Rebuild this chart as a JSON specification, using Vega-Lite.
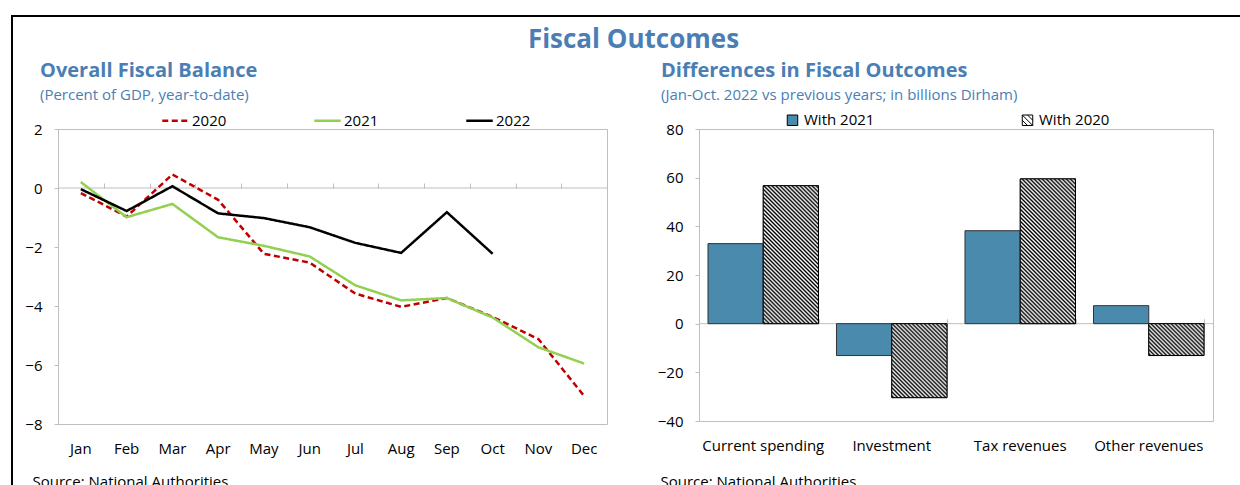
{
"$schema": "https://vega.github.io/schema/vega-lite/v6.json",
"background": "white",
"padding": {"left": 11, "top": 15, "right": 0, "bottom": 0},
"spacing": 0,
"hconcat": [
 {"width": 2, "height": 480, "view": {"fill": "#000", "stroke": null}, "data": {"values": []}, "mark": "point", "encoding": {}},
 {"spacing": 7, "vconcat": [
  {"width": 1227, "height": 2, "view": {"fill": "#000", "stroke": null},
   "title": {"text": "Fiscal Outcomes", "orient": "bottom", "anchor": "middle", "frame": "group", "baseline": "top", "dx": 7, "offset": 10, "fontSize": 26, "fontWeight": "bold", "color": "#4a7eb4", "font": "Open Sans"},
   "data": {"values": []}, "mark": "point", "encoding": {}},
  {"bounds": "flush", "spacing": 44,
   "hconcat": [
    {"width": 1, "height": 295, "view": {"stroke": null}, "data": {"values": []}, "mark": "point", "encoding": {}},
    {"bounds": "flush", "spacing": 92, "hconcat": [
     {"width": 549, "height": 295,
      "title": {"text": "Overall Fiscal Balance", "subtitle": "(Percent of GDP, year-to-date)", "anchor": "start", "frame": "group", "dx": -18, "offset": 19, "fontSize": 20, "fontWeight": "bold", "color": "#4a7eb4", "font": "Open Sans", "subtitleFont": "Open Sans", "subtitleFontSize": 15, "subtitleColor": "#4a7eb4", "subtitlePadding": 7},
      "data": {"values": [
        {"m": "Jan", "yr": "2020", "v": -0.17}, {"m": "Feb", "yr": "2020", "v": -0.97}, {"m": "Mar", "yr": "2020", "v": 0.46}, {"m": "Apr", "yr": "2020", "v": -0.40}, {"m": "May", "yr": "2020", "v": -2.23}, {"m": "Jun", "yr": "2020", "v": -2.53}, {"m": "Jul", "yr": "2020", "v": -3.58}, {"m": "Aug", "yr": "2020", "v": -4.03}, {"m": "Sep", "yr": "2020", "v": -3.73}, {"m": "Oct", "yr": "2020", "v": -4.37}, {"m": "Nov", "yr": "2020", "v": -5.12}, {"m": "Dec", "yr": "2020", "v": -7.05},
        {"m": "Jan", "yr": "2021", "v": 0.20}, {"m": "Feb", "yr": "2021", "v": -0.99}, {"m": "Mar", "yr": "2021", "v": -0.54}, {"m": "Apr", "yr": "2021", "v": -1.67}, {"m": "May", "yr": "2021", "v": -1.96}, {"m": "Jun", "yr": "2021", "v": -2.32}, {"m": "Jul", "yr": "2021", "v": -3.30}, {"m": "Aug", "yr": "2021", "v": -3.81}, {"m": "Sep", "yr": "2021", "v": -3.73}, {"m": "Oct", "yr": "2021", "v": -4.39}, {"m": "Nov", "yr": "2021", "v": -5.40}, {"m": "Dec", "yr": "2021", "v": -5.95},
        {"m": "Jan", "yr": "2022", "v": -0.04}, {"m": "Feb", "yr": "2022", "v": -0.78}, {"m": "Mar", "yr": "2022", "v": 0.06}, {"m": "Apr", "yr": "2022", "v": -0.86}, {"m": "May", "yr": "2022", "v": -1.02}, {"m": "Jun", "yr": "2022", "v": -1.33}, {"m": "Jul", "yr": "2022", "v": -1.86}, {"m": "Aug", "yr": "2022", "v": -2.20}, {"m": "Sep", "yr": "2022", "v": -0.82}, {"m": "Oct", "yr": "2022", "v": -2.23}
      ]},
      "resolve": {"axis": {"x": "independent"}},
      "layer": [
       {"data": {"values": [{}]}, "mark": {"type": "rule", "color": "#bfbfbf", "strokeWidth": 1},
        "encoding": {"y": {"datum": 0, "type": "quantitative", "scale": {"domain": [-8, 2], "nice": false}, "axis": {"title": null}}}},
       {"mark": {"type": "line", "strokeWidth": 2.5},
        "encoding": {
         "x": {"field": "m", "type": "nominal", "sort": ["Jan","Feb","Mar","Apr","May","Jun","Jul","Aug","Sep","Oct","Nov","Dec"], "scale": {"type": "band", "paddingInner": 0, "paddingOuter": 0},
               "axis": {"title": "Source: National Authorities", "labelAngle": 0, "ticks": false, "tickSize": 0, "domain": false, "labelPadding": 17, "titleX": -26, "titleY": 50, "titleAlign": "left", "titleBaseline": "top", "titleAnchor": null}},
         "y": {"field": "v", "type": "quantitative", "scale": {"domain": [-8, 2], "nice": false}, "axis": {"title": null, "values": [-8, -6, -4, -2, 0, 2]}},
         "stroke": {"field": "yr", "type": "nominal", "scale": {"domain": ["2020", "2021", "2022"], "range": ["#c00000", "#92d050", "#000000"]},
                    "legend": {"orient": "none", "legendX": 150, "legendY": 91, "direction": "horizontal", "title": null, "symbolType": "stroke", "symbolSize": 700, "symbolStrokeWidth": 2.5, "labelOffset": 2, "columnPadding": 82, "gridAlign": "all"}},
         "strokeDash": {"field": "yr", "type": "nominal", "scale": {"domain": ["2020", "2021", "2022"], "range": [[6, 3.5], [1, 0], [1, 0]]},
                    "legend": {"orient": "none", "legendX": 150, "legendY": 91, "direction": "horizontal", "title": null, "symbolType": "stroke", "symbolSize": 700, "symbolStrokeWidth": 2.5, "labelOffset": 2, "columnPadding": 82, "gridAlign": "all"}}
        }},
       {"mark": {"type": "point", "opacity": 0},
        "encoding": {
         "x": {"field": "m", "type": "nominal", "sort": ["Jan","Feb","Mar","Apr","May","Jun","Jul","Aug","Sep","Oct","Nov","Dec"], "scale": {"type": "band", "paddingInner": 0, "paddingOuter": 0},
               "axis": {"title": null, "orient": "top", "offset": -59, "labels": false, "domain": false, "ticks": true, "tickBand": "extent", "tickSize": 5, "tickColor": "#bfbfbf"}},
         "y": {"field": "v", "type": "quantitative", "axis": {"title": null}}
        }}
      ]},
     {"width": 514, "height": 292,
      "title": {"text": "Differences in Fiscal Outcomes", "subtitle": "(Jan-Oct. 2022 vs previous years; in billions Dirham)", "anchor": "start", "frame": "group", "dx": -38, "offset": 19, "fontSize": 20, "fontWeight": "bold", "color": "#4a7eb4", "font": "Open Sans", "subtitleFont": "Open Sans", "subtitleFontSize": 15, "subtitleColor": "#4a7eb4", "subtitlePadding": 7},
      "data": {"values": [
        {"cat": "Current spending", "s": "With 2021", "v": 32.9}, {"cat": "Current spending", "s": "With 2020", "v": 56.7},
        {"cat": "Investment", "s": "With 2021", "v": -13.1}, {"cat": "Investment", "s": "With 2020", "v": -30.4},
        {"cat": "Tax revenues", "s": "With 2021", "v": 38.2}, {"cat": "Tax revenues", "s": "With 2020", "v": 59.5},
        {"cat": "Other revenues", "s": "With 2021", "v": 7.4}, {"cat": "Other revenues", "s": "With 2020", "v": -13.1}
      ]},
      "resolve": {"axis": {"x": "independent"}},
      "layer": [
       {"data": {"values": [{}]}, "mark": {"type": "rule", "color": "#bfbfbf", "strokeWidth": 1},
        "encoding": {"y": {"datum": 0, "type": "quantitative", "scale": {"domain": [-40, 80], "nice": false}, "axis": {"title": null}}}},
       {"mark": {"type": "bar", "stroke": "#333333", "strokeWidth": 1},
        "encoding": {
         "x": {"field": "cat", "type": "nominal", "sort": ["Current spending", "Investment", "Tax revenues", "Other revenues"], "scale": {"type": "band", "paddingInner": 0.14, "paddingOuter": 0.07},
               "axis": {"title": "Source: National Authorities", "labelAngle": 0, "ticks": false, "tickSize": 0, "domain": false, "labelPadding": 17, "titleX": -39, "titleY": 53, "titleAlign": "left", "titleBaseline": "top", "titleAnchor": null}},
         "xOffset": {"field": "s", "type": "nominal", "scale": {"domain": ["With 2021", "With 2020"], "paddingInner": 0, "paddingOuter": 0}},
         "y": {"field": "v", "type": "quantitative", "scale": {"domain": [-40, 80], "nice": false}, "axis": {"title": null, "values": [-40, -20, 0, 20, 40, 60, 80]}},
         "fill": {"field": "s", "type": "nominal", "scale": {"domain": ["With 2021", "With 2020"], "range": ["#4a8aac", "#ffffff"]},
                  "legend": {"orient": "none", "legendX": 774, "legendY": 97.5, "direction": "horizontal", "title": null, "symbolType": "square", "symbolSize": 110, "symbolStrokeColor": "#000000", "symbolStrokeWidth": 1, "labelOffset": 4, "columnPadding": 145,
                             "encode": {"symbols": {"update": {"shape": {"signal": "datum.value === 'With 2020' ? 'M-1,-1H1V1H-1Z M-1,-1L1,1 M-1,0L0,1 M0,-1L1,0' : 'square'"}}}}}}
        }},
       {"transform": [{"filter": "datum.s === 'With 2020' && datum.cat === 'Current spending'"}],
        "mark": {"type": "bar", "stroke": "#000000", "strokeWidth": 1, "fill": {"gradient": "linear", "x1": 0, "y1": 1, "x2": 0.50231, "y2": -0.25437, "stops": [{"offset":0,"color":"#fff"},{"offset":0.01,"color":"#000"},{"offset":0.02,"color":"#fff"},{"offset":0.03,"color":"#000"},{"offset":0.04,"color":"#fff"},{"offset":0.05,"color":"#000"},{"offset":0.06,"color":"#fff"},{"offset":0.07,"color":"#000"},{"offset":0.08,"color":"#fff"},{"offset":0.09,"color":"#000"},{"offset":0.1,"color":"#fff"},{"offset":0.11,"color":"#000"},{"offset":0.12,"color":"#fff"},{"offset":0.13,"color":"#000"},{"offset":0.14,"color":"#fff"},{"offset":0.15,"color":"#000"},{"offset":0.16,"color":"#fff"},{"offset":0.17,"color":"#000"},{"offset":0.18,"color":"#fff"},{"offset":0.19,"color":"#000"},{"offset":0.2,"color":"#fff"},{"offset":0.21,"color":"#000"},{"offset":0.22,"color":"#fff"},{"offset":0.23,"color":"#000"},{"offset":0.24,"color":"#fff"},{"offset":0.25,"color":"#000"},{"offset":0.26,"color":"#fff"},{"offset":0.27,"color":"#000"},{"offset":0.28,"color":"#fff"},{"offset":0.29,"color":"#000"},{"offset":0.3,"color":"#fff"},{"offset":0.31,"color":"#000"},{"offset":0.32,"color":"#fff"},{"offset":0.33,"color":"#000"},{"offset":0.34,"color":"#fff"},{"offset":0.35,"color":"#000"},{"offset":0.36,"color":"#fff"},{"offset":0.37,"color":"#000"},{"offset":0.38,"color":"#fff"},{"offset":0.39,"color":"#000"},{"offset":0.4,"color":"#fff"},{"offset":0.41,"color":"#000"},{"offset":0.42,"color":"#fff"},{"offset":0.43,"color":"#000"},{"offset":0.44,"color":"#fff"},{"offset":0.45,"color":"#000"},{"offset":0.46,"color":"#fff"},{"offset":0.47,"color":"#000"},{"offset":0.48,"color":"#fff"},{"offset":0.49,"color":"#000"},{"offset":0.5,"color":"#fff"},{"offset":0.51,"color":"#000"},{"offset":0.52,"color":"#fff"},{"offset":0.53,"color":"#000"},{"offset":0.54,"color":"#fff"},{"offset":0.55,"color":"#000"},{"offset":0.56,"color":"#fff"},{"offset":0.57,"color":"#000"},{"offset":0.58,"color":"#fff"},{"offset":0.59,"color":"#000"},{"offset":0.6,"color":"#fff"},{"offset":0.61,"color":"#000"},{"offset":0.62,"color":"#fff"},{"offset":0.63,"color":"#000"},{"offset":0.64,"color":"#fff"},{"offset":0.65,"color":"#000"},{"offset":0.66,"color":"#fff"},{"offset":0.67,"color":"#000"},{"offset":0.68,"color":"#fff"},{"offset":0.69,"color":"#000"},{"offset":0.7,"color":"#fff"},{"offset":0.71,"color":"#000"},{"offset":0.72,"color":"#fff"},{"offset":0.73,"color":"#000"},{"offset":0.74,"color":"#fff"},{"offset":0.75,"color":"#000"},{"offset":0.76,"color":"#fff"},{"offset":0.77,"color":"#000"},{"offset":0.78,"color":"#fff"},{"offset":0.79,"color":"#000"},{"offset":0.8,"color":"#fff"},{"offset":0.81,"color":"#000"},{"offset":0.82,"color":"#fff"},{"offset":0.83,"color":"#000"},{"offset":0.84,"color":"#fff"},{"offset":0.85,"color":"#000"},{"offset":0.86,"color":"#fff"},{"offset":0.87,"color":"#000"},{"offset":0.88,"color":"#fff"},{"offset":0.89,"color":"#000"},{"offset":0.9,"color":"#fff"},{"offset":0.91,"color":"#000"},{"offset":0.92,"color":"#fff"},{"offset":0.93,"color":"#000"},{"offset":0.94,"color":"#fff"},{"offset":0.95,"color":"#000"},{"offset":0.96,"color":"#fff"},{"offset":0.97,"color":"#000"},{"offset":0.98,"color":"#fff"},{"offset":0.99,"color":"#000"},{"offset":1,"color":"#fff"}]}},
        "encoding": {
         "x": {"field": "cat", "type": "nominal", "sort": ["Current spending", "Investment", "Tax revenues", "Other revenues"], "scale": {"type": "band", "paddingInner": 0.14, "paddingOuter": 0.07}, "axis": null},
         "xOffset": {"field": "s", "type": "nominal", "scale": {"domain": ["With 2021", "With 2020"], "paddingInner": 0, "paddingOuter": 0}},
         "y": {"field": "v", "type": "quantitative", "axis": {"title": null}}
        }},
       {"transform": [{"filter": "datum.s === 'With 2020' && datum.cat === 'Investment'"}],
        "mark": {"type": "bar", "stroke": "#000000", "strokeWidth": 1, "fill": {"gradient": "linear", "x1": 0, "y1": 1, "x2": 1.30164, "y2": -0.74266, "stops": [{"offset":0,"color":"#fff"},{"offset":0.01,"color":"#000"},{"offset":0.02,"color":"#fff"},{"offset":0.03,"color":"#000"},{"offset":0.04,"color":"#fff"},{"offset":0.05,"color":"#000"},{"offset":0.06,"color":"#fff"},{"offset":0.07,"color":"#000"},{"offset":0.08,"color":"#fff"},{"offset":0.09,"color":"#000"},{"offset":0.1,"color":"#fff"},{"offset":0.11,"color":"#000"},{"offset":0.12,"color":"#fff"},{"offset":0.13,"color":"#000"},{"offset":0.14,"color":"#fff"},{"offset":0.15,"color":"#000"},{"offset":0.16,"color":"#fff"},{"offset":0.17,"color":"#000"},{"offset":0.18,"color":"#fff"},{"offset":0.19,"color":"#000"},{"offset":0.2,"color":"#fff"},{"offset":0.21,"color":"#000"},{"offset":0.22,"color":"#fff"},{"offset":0.23,"color":"#000"},{"offset":0.24,"color":"#fff"},{"offset":0.25,"color":"#000"},{"offset":0.26,"color":"#fff"},{"offset":0.27,"color":"#000"},{"offset":0.28,"color":"#fff"},{"offset":0.29,"color":"#000"},{"offset":0.3,"color":"#fff"},{"offset":0.31,"color":"#000"},{"offset":0.32,"color":"#fff"},{"offset":0.33,"color":"#000"},{"offset":0.34,"color":"#fff"},{"offset":0.35,"color":"#000"},{"offset":0.36,"color":"#fff"},{"offset":0.37,"color":"#000"},{"offset":0.38,"color":"#fff"},{"offset":0.39,"color":"#000"},{"offset":0.4,"color":"#fff"},{"offset":0.41,"color":"#000"},{"offset":0.42,"color":"#fff"},{"offset":0.43,"color":"#000"},{"offset":0.44,"color":"#fff"},{"offset":0.45,"color":"#000"},{"offset":0.46,"color":"#fff"},{"offset":0.47,"color":"#000"},{"offset":0.48,"color":"#fff"},{"offset":0.49,"color":"#000"},{"offset":0.5,"color":"#fff"},{"offset":0.51,"color":"#000"},{"offset":0.52,"color":"#fff"},{"offset":0.53,"color":"#000"},{"offset":0.54,"color":"#fff"},{"offset":0.55,"color":"#000"},{"offset":0.56,"color":"#fff"},{"offset":0.57,"color":"#000"},{"offset":0.58,"color":"#fff"},{"offset":0.59,"color":"#000"},{"offset":0.6,"color":"#fff"},{"offset":0.61,"color":"#000"},{"offset":0.62,"color":"#fff"},{"offset":0.63,"color":"#000"},{"offset":0.64,"color":"#fff"},{"offset":0.65,"color":"#000"},{"offset":0.66,"color":"#fff"},{"offset":0.67,"color":"#000"},{"offset":0.68,"color":"#fff"},{"offset":0.69,"color":"#000"},{"offset":0.7,"color":"#fff"},{"offset":0.71,"color":"#000"},{"offset":0.72,"color":"#fff"},{"offset":0.73,"color":"#000"},{"offset":0.74,"color":"#fff"},{"offset":0.75,"color":"#000"},{"offset":0.76,"color":"#fff"},{"offset":0.77,"color":"#000"},{"offset":0.78,"color":"#fff"},{"offset":0.79,"color":"#000"},{"offset":0.8,"color":"#fff"},{"offset":0.81,"color":"#000"},{"offset":0.82,"color":"#fff"},{"offset":0.83,"color":"#000"},{"offset":0.84,"color":"#fff"},{"offset":0.85,"color":"#000"},{"offset":0.86,"color":"#fff"},{"offset":0.87,"color":"#000"},{"offset":0.88,"color":"#fff"},{"offset":0.89,"color":"#000"},{"offset":0.9,"color":"#fff"},{"offset":0.91,"color":"#000"},{"offset":0.92,"color":"#fff"},{"offset":0.93,"color":"#000"},{"offset":0.94,"color":"#fff"},{"offset":0.95,"color":"#000"},{"offset":0.96,"color":"#fff"},{"offset":0.97,"color":"#000"},{"offset":0.98,"color":"#fff"},{"offset":0.99,"color":"#000"},{"offset":1,"color":"#fff"}]}},
        "encoding": {
         "x": {"field": "cat", "type": "nominal", "sort": ["Current spending", "Investment", "Tax revenues", "Other revenues"], "scale": {"type": "band", "paddingInner": 0.14, "paddingOuter": 0.07}, "axis": null},
         "xOffset": {"field": "s", "type": "nominal", "scale": {"domain": ["With 2021", "With 2020"], "paddingInner": 0, "paddingOuter": 0}},
         "y": {"field": "v", "type": "quantitative", "axis": {"title": null}}
        }},
       {"transform": [{"filter": "datum.s === 'With 2020' && datum.cat === 'Tax revenues'"}],
        "mark": {"type": "bar", "stroke": "#000000", "strokeWidth": 1, "fill": {"gradient": "linear", "x1": 0, "y1": 1, "x2": 0.46203, "y2": -0.21073, "stops": [{"offset":0,"color":"#fff"},{"offset":0.01,"color":"#000"},{"offset":0.02,"color":"#fff"},{"offset":0.03,"color":"#000"},{"offset":0.04,"color":"#fff"},{"offset":0.05,"color":"#000"},{"offset":0.06,"color":"#fff"},{"offset":0.07,"color":"#000"},{"offset":0.08,"color":"#fff"},{"offset":0.09,"color":"#000"},{"offset":0.1,"color":"#fff"},{"offset":0.11,"color":"#000"},{"offset":0.12,"color":"#fff"},{"offset":0.13,"color":"#000"},{"offset":0.14,"color":"#fff"},{"offset":0.15,"color":"#000"},{"offset":0.16,"color":"#fff"},{"offset":0.17,"color":"#000"},{"offset":0.18,"color":"#fff"},{"offset":0.19,"color":"#000"},{"offset":0.2,"color":"#fff"},{"offset":0.21,"color":"#000"},{"offset":0.22,"color":"#fff"},{"offset":0.23,"color":"#000"},{"offset":0.24,"color":"#fff"},{"offset":0.25,"color":"#000"},{"offset":0.26,"color":"#fff"},{"offset":0.27,"color":"#000"},{"offset":0.28,"color":"#fff"},{"offset":0.29,"color":"#000"},{"offset":0.3,"color":"#fff"},{"offset":0.31,"color":"#000"},{"offset":0.32,"color":"#fff"},{"offset":0.33,"color":"#000"},{"offset":0.34,"color":"#fff"},{"offset":0.35,"color":"#000"},{"offset":0.36,"color":"#fff"},{"offset":0.37,"color":"#000"},{"offset":0.38,"color":"#fff"},{"offset":0.39,"color":"#000"},{"offset":0.4,"color":"#fff"},{"offset":0.41,"color":"#000"},{"offset":0.42,"color":"#fff"},{"offset":0.43,"color":"#000"},{"offset":0.44,"color":"#fff"},{"offset":0.45,"color":"#000"},{"offset":0.46,"color":"#fff"},{"offset":0.47,"color":"#000"},{"offset":0.48,"color":"#fff"},{"offset":0.49,"color":"#000"},{"offset":0.5,"color":"#fff"},{"offset":0.51,"color":"#000"},{"offset":0.52,"color":"#fff"},{"offset":0.53,"color":"#000"},{"offset":0.54,"color":"#fff"},{"offset":0.55,"color":"#000"},{"offset":0.56,"color":"#fff"},{"offset":0.57,"color":"#000"},{"offset":0.58,"color":"#fff"},{"offset":0.59,"color":"#000"},{"offset":0.6,"color":"#fff"},{"offset":0.61,"color":"#000"},{"offset":0.62,"color":"#fff"},{"offset":0.63,"color":"#000"},{"offset":0.64,"color":"#fff"},{"offset":0.65,"color":"#000"},{"offset":0.66,"color":"#fff"},{"offset":0.67,"color":"#000"},{"offset":0.68,"color":"#fff"},{"offset":0.69,"color":"#000"},{"offset":0.7,"color":"#fff"},{"offset":0.71,"color":"#000"},{"offset":0.72,"color":"#fff"},{"offset":0.73,"color":"#000"},{"offset":0.74,"color":"#fff"},{"offset":0.75,"color":"#000"},{"offset":0.76,"color":"#fff"},{"offset":0.77,"color":"#000"},{"offset":0.78,"color":"#fff"},{"offset":0.79,"color":"#000"},{"offset":0.8,"color":"#fff"},{"offset":0.81,"color":"#000"},{"offset":0.82,"color":"#fff"},{"offset":0.83,"color":"#000"},{"offset":0.84,"color":"#fff"},{"offset":0.85,"color":"#000"},{"offset":0.86,"color":"#fff"},{"offset":0.87,"color":"#000"},{"offset":0.88,"color":"#fff"},{"offset":0.89,"color":"#000"},{"offset":0.9,"color":"#fff"},{"offset":0.91,"color":"#000"},{"offset":0.92,"color":"#fff"},{"offset":0.93,"color":"#000"},{"offset":0.94,"color":"#fff"},{"offset":0.95,"color":"#000"},{"offset":0.96,"color":"#fff"},{"offset":0.97,"color":"#000"},{"offset":0.98,"color":"#fff"},{"offset":0.99,"color":"#000"},{"offset":1,"color":"#fff"}]}},
        "encoding": {
         "x": {"field": "cat", "type": "nominal", "sort": ["Current spending", "Investment", "Tax revenues", "Other revenues"], "scale": {"type": "band", "paddingInner": 0.14, "paddingOuter": 0.07}, "axis": null},
         "xOffset": {"field": "s", "type": "nominal", "scale": {"domain": ["With 2021", "With 2020"], "paddingInner": 0, "paddingOuter": 0}},
         "y": {"field": "v", "type": "quantitative", "axis": {"title": null}}
        }},
       {"transform": [{"filter": "datum.s === 'With 2020' && datum.cat === 'Other revenues'"}],
        "mark": {"type": "bar", "stroke": "#000000", "strokeWidth": 1, "fill": {"gradient": "linear", "x1": 0, "y1": 1, "x2": 2.72686, "y2": -0.57344, "stops": [{"offset":0,"color":"#fff"},{"offset":0.01,"color":"#000"},{"offset":0.02,"color":"#fff"},{"offset":0.03,"color":"#000"},{"offset":0.04,"color":"#fff"},{"offset":0.05,"color":"#000"},{"offset":0.06,"color":"#fff"},{"offset":0.07,"color":"#000"},{"offset":0.08,"color":"#fff"},{"offset":0.09,"color":"#000"},{"offset":0.1,"color":"#fff"},{"offset":0.11,"color":"#000"},{"offset":0.12,"color":"#fff"},{"offset":0.13,"color":"#000"},{"offset":0.14,"color":"#fff"},{"offset":0.15,"color":"#000"},{"offset":0.16,"color":"#fff"},{"offset":0.17,"color":"#000"},{"offset":0.18,"color":"#fff"},{"offset":0.19,"color":"#000"},{"offset":0.2,"color":"#fff"},{"offset":0.21,"color":"#000"},{"offset":0.22,"color":"#fff"},{"offset":0.23,"color":"#000"},{"offset":0.24,"color":"#fff"},{"offset":0.25,"color":"#000"},{"offset":0.26,"color":"#fff"},{"offset":0.27,"color":"#000"},{"offset":0.28,"color":"#fff"},{"offset":0.29,"color":"#000"},{"offset":0.3,"color":"#fff"},{"offset":0.31,"color":"#000"},{"offset":0.32,"color":"#fff"},{"offset":0.33,"color":"#000"},{"offset":0.34,"color":"#fff"},{"offset":0.35,"color":"#000"},{"offset":0.36,"color":"#fff"},{"offset":0.37,"color":"#000"},{"offset":0.38,"color":"#fff"},{"offset":0.39,"color":"#000"},{"offset":0.4,"color":"#fff"},{"offset":0.41,"color":"#000"},{"offset":0.42,"color":"#fff"},{"offset":0.43,"color":"#000"},{"offset":0.44,"color":"#fff"},{"offset":0.45,"color":"#000"},{"offset":0.46,"color":"#fff"},{"offset":0.47,"color":"#000"},{"offset":0.48,"color":"#fff"},{"offset":0.49,"color":"#000"},{"offset":0.5,"color":"#fff"},{"offset":0.51,"color":"#000"},{"offset":0.52,"color":"#fff"},{"offset":0.53,"color":"#000"},{"offset":0.54,"color":"#fff"},{"offset":0.55,"color":"#000"},{"offset":0.56,"color":"#fff"},{"offset":0.57,"color":"#000"},{"offset":0.58,"color":"#fff"},{"offset":0.59,"color":"#000"},{"offset":0.6,"color":"#fff"},{"offset":0.61,"color":"#000"},{"offset":0.62,"color":"#fff"},{"offset":0.63,"color":"#000"},{"offset":0.64,"color":"#fff"},{"offset":0.65,"color":"#000"},{"offset":0.66,"color":"#fff"},{"offset":0.67,"color":"#000"},{"offset":0.68,"color":"#fff"},{"offset":0.69,"color":"#000"},{"offset":0.7,"color":"#fff"},{"offset":0.71,"color":"#000"},{"offset":0.72,"color":"#fff"},{"offset":0.73,"color":"#000"},{"offset":0.74,"color":"#fff"},{"offset":0.75,"color":"#000"},{"offset":0.76,"color":"#fff"},{"offset":0.77,"color":"#000"},{"offset":0.78,"color":"#fff"},{"offset":0.79,"color":"#000"},{"offset":0.8,"color":"#fff"},{"offset":0.81,"color":"#000"},{"offset":0.82,"color":"#fff"},{"offset":0.83,"color":"#000"},{"offset":0.84,"color":"#fff"},{"offset":0.85,"color":"#000"},{"offset":0.86,"color":"#fff"},{"offset":0.87,"color":"#000"},{"offset":0.88,"color":"#fff"},{"offset":0.89,"color":"#000"},{"offset":0.9,"color":"#fff"},{"offset":0.91,"color":"#000"},{"offset":0.92,"color":"#fff"},{"offset":0.93,"color":"#000"},{"offset":0.94,"color":"#fff"},{"offset":0.95,"color":"#000"},{"offset":0.96,"color":"#fff"},{"offset":0.97,"color":"#000"},{"offset":0.98,"color":"#fff"},{"offset":0.99,"color":"#000"},{"offset":1,"color":"#fff"}]}},
        "encoding": {
         "x": {"field": "cat", "type": "nominal", "sort": ["Current spending", "Investment", "Tax revenues", "Other revenues"], "scale": {"type": "band", "paddingInner": 0.14, "paddingOuter": 0.07},
               "axis": {"title": null, "orient": "top", "offset": -194.67, "labels": false, "domain": false, "ticks": true, "tickBand": "extent", "tickSize": 5, "tickColor": "#bfbfbf"}},
         "xOffset": {"field": "s", "type": "nominal", "scale": {"domain": ["With 2021", "With 2020"], "paddingInner": 0, "paddingOuter": 0}},
         "y": {"field": "v", "type": "quantitative", "axis": {"title": null}}
        }}
      ]}
    ]}
   ]}
 ]}
],
"config": {
 "font": "Open Sans",
 "view": {"stroke": "#bfbfbf", "strokeWidth": 1},
 "axis": {"labelFont": "Open Sans", "labelFontSize": 15, "labelColor": "#000000", "grid": false, "titleFont": "Open Sans", "titleFontSize": 15, "titleFontWeight": "normal", "titleColor": "#000000"},
 "axisY": {"domain": false, "tickColor": "#bfbfbf", "tickSize": 4, "labelPadding": 12},
 "legend": {"labelFont": "Open Sans", "labelFontSize": 15, "labelColor": "#000000"}
}
}
